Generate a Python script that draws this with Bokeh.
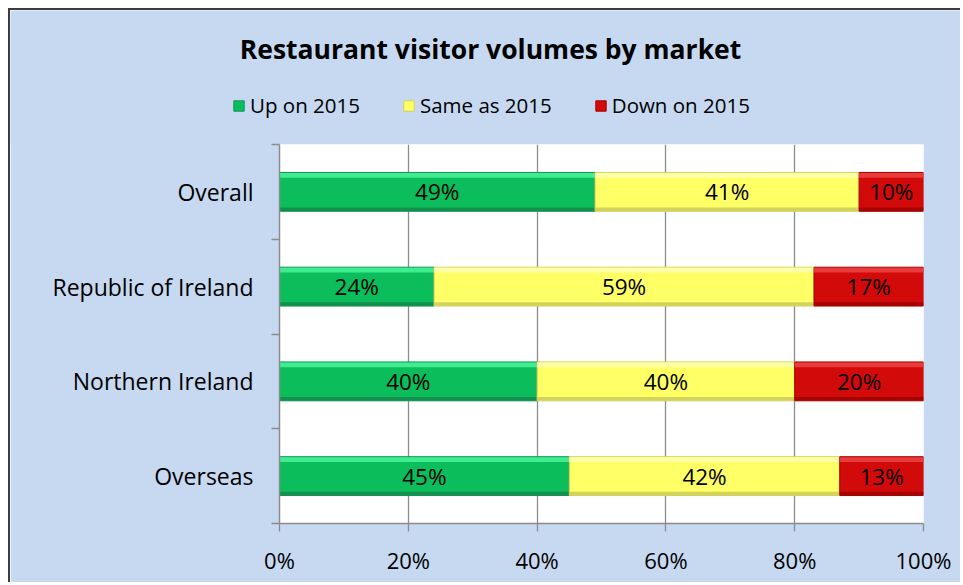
from bokeh.plotting import figure
from bokeh.models import FixedTicker, Legend, LegendItem, Label, PrintfTickFormatter, Range1d
from bokeh.core.properties import value
from bokeh.embed import file_html
from bokeh.resources import INLINE

# ---- data ----
markets = ["Overall", "Republic of Ireland", "Northern Ireland", "Overseas"]
up_on_2015 = [49, 24, 40, 45]
same_as_2015 = [41, 59, 40, 42]
down_on_2015 = [10, 17, 20, 13]
series_names = ["Up on 2015", "Same as 2015", "Down on 2015"]
x_ticks = [0, 20, 40, 60, 80, 100]
title_text = "Restaurant visitor volumes by market"

# ---- style ----
FONT = "Open Sans"
BG = "#C6D9F1"
GRID = "#8C8C8C"
BORDER = "2px solid #3c3c3c"
body_colors = ["#0BBE5B", "#FFFF66", "#D20A0A"]
top_colors = ["#45F196", "#FFFFB0", "#EA4040"]
bottom_colors = ["#15844A", "#C8C85A", "#9A0000"]
edge_colors = ["#12935A", "#D2D25E", "#A80000"]

W = 952
HEAD_H = 136

n = len(markets)
ypos = [n - i - 0.5 for i in range(n)]
series = [up_on_2015, same_as_2015, down_on_2015]

# stacked extents, computed from the data
lefts_all, rights_all = [], []
acc = [0] * n
for vals in series:
    lefts_all.append(list(acc))
    acc = [a + v for a, v in zip(acc, vals)]
    rights_all.append(list(acc))

# ================= header (title + legend) =================
head = figure(width=W, height=HEAD_H, output_backend="svg", toolbar_location=None,
              x_range=Range1d(0, W), y_range=Range1d(0, HEAD_H),
              x_axis_type=None, y_axis_type=None,
              min_border_left=0, min_border_right=0, min_border_top=0, min_border_bottom=0)
head.styles = {"margin-left": "8px", "margin-top": "8px",
               "border-left": BORDER, "border-top": BORDER}
head.background_fill_color = BG
head.border_fill_color = BG
head.outline_line_color = None
head.grid.visible = False

title = Label(x=480, y=HEAD_H - 38, text=title_text, text_align="center",
              text_baseline="middle", text_font=FONT, text_font_size="26.5px",
              text_font_style="bold", text_color="black")
head.add_layout(title)

legend_items = []
for k, name in enumerate(series_names):
    # legend key glyphs (same series data, not drawn in the header)
    sw = head.hbar(y=ypos, left=lefts_all[k], right=rights_all[k], height=0.41,
                   fill_color=body_colors[k], line_color=edge_colors[k], line_width=1,
                   visible=False)
    legend_items.append(LegendItem(label=name, renderers=[sw]))

legend = Legend(items=legend_items, orientation="horizontal", location=(222, 27),
                background_fill_alpha=0, border_line_alpha=0, padding=0, margin=0,
                spacing=42, label_standoff=5, glyph_width=13, glyph_height=13,
                inactive_fill_alpha=0,
                label_text_font=FONT, label_text_font_size="20.5px", label_text_color="black")
head.add_layout(legend)

# ================= main chart =================
p = figure(width=W, height=439, output_backend="svg", toolbar_location=None,
           x_range=Range1d(0, 100), y_range=Range1d(0, n),
           min_border_left=269, min_border_right=39,
           min_border_top=1, min_border_bottom=59)
p.styles = {"margin-left": "8px", "margin-top": "-1px", "border-left": BORDER}
p.background_fill_color = "white"
p.border_fill_color = BG
p.outline_line_color = None

# grid
p.ygrid.grid_line_color = None
p.xgrid.ticker = FixedTicker(ticks=x_ticks)
p.xgrid.grid_line_color = GRID
p.xgrid.grid_line_width = 1.3

# x axis
xa = p.xaxis[0]
xa.ticker = FixedTicker(ticks=x_ticks)
xa.formatter = PrintfTickFormatter(format="%d%%")
xa.axis_line_color = GRID
xa.axis_line_width = 1.5
xa.major_tick_line_color = GRID
xa.major_tick_line_width = 1.3
xa.major_tick_out = 8
xa.major_tick_in = 0
xa.minor_tick_line_color = None
xa.major_label_standoff = 13
xa.major_label_text_font = FONT
xa.major_label_text_font_size = "22px"
xa.major_label_text_color = "black"

# y axis
ya = p.yaxis[0]
ya.ticker = FixedTicker(ticks=ypos, minor_ticks=list(range(n + 1)))
ya.major_label_overrides = {y: m for y, m in zip(ypos, markets)}
ya.axis_line_color = GRID
ya.axis_line_width = 1.5
ya.major_tick_line_color = None
ya.major_tick_out = 0
ya.major_tick_in = 0
ya.minor_tick_line_color = GRID
ya.minor_tick_line_width = 1.3
ya.minor_tick_out = 8
ya.minor_tick_in = 0
ya.major_label_standoff = 18
ya.major_label_text_font = FONT
ya.major_label_text_font_size = "23px"
ya.major_label_text_color = "black"

# bars
BAR_H = 0.41
STRIP_T = 0.05
STRIP_B = 0.035
for k, vals in enumerate(series):
    lefts, rights = lefts_all[k], rights_all[k]
    p.hbar(y=ypos, left=lefts, right=rights, height=BAR_H,
           fill_color=body_colors[k], line_color=edge_colors[k], line_width=1)
    p.hbar(y=[y + BAR_H / 2 - STRIP_T / 2 - 0.005 for y in ypos], left=lefts, right=rights,
           height=STRIP_T, fill_color=top_colors[k], line_color=None, fill_alpha=0.9)
    p.hbar(y=[y - BAR_H / 2 + STRIP_B / 2 + 0.004 for y in ypos], left=lefts, right=rights,
           height=STRIP_B, fill_color=bottom_colors[k], line_color=None, fill_alpha=0.8)
    mids = [l + v / 2 for l, v in zip(lefts, vals)]
    p.text(x=mids, y=ypos, text=[f"{v}%" for v in vals], text_align="center",
           text_baseline="middle", text_font=value(FONT), text_font_size="22.5px",
           text_color="black")

open("out.html", "w").write(file_html([head, p], INLINE))
